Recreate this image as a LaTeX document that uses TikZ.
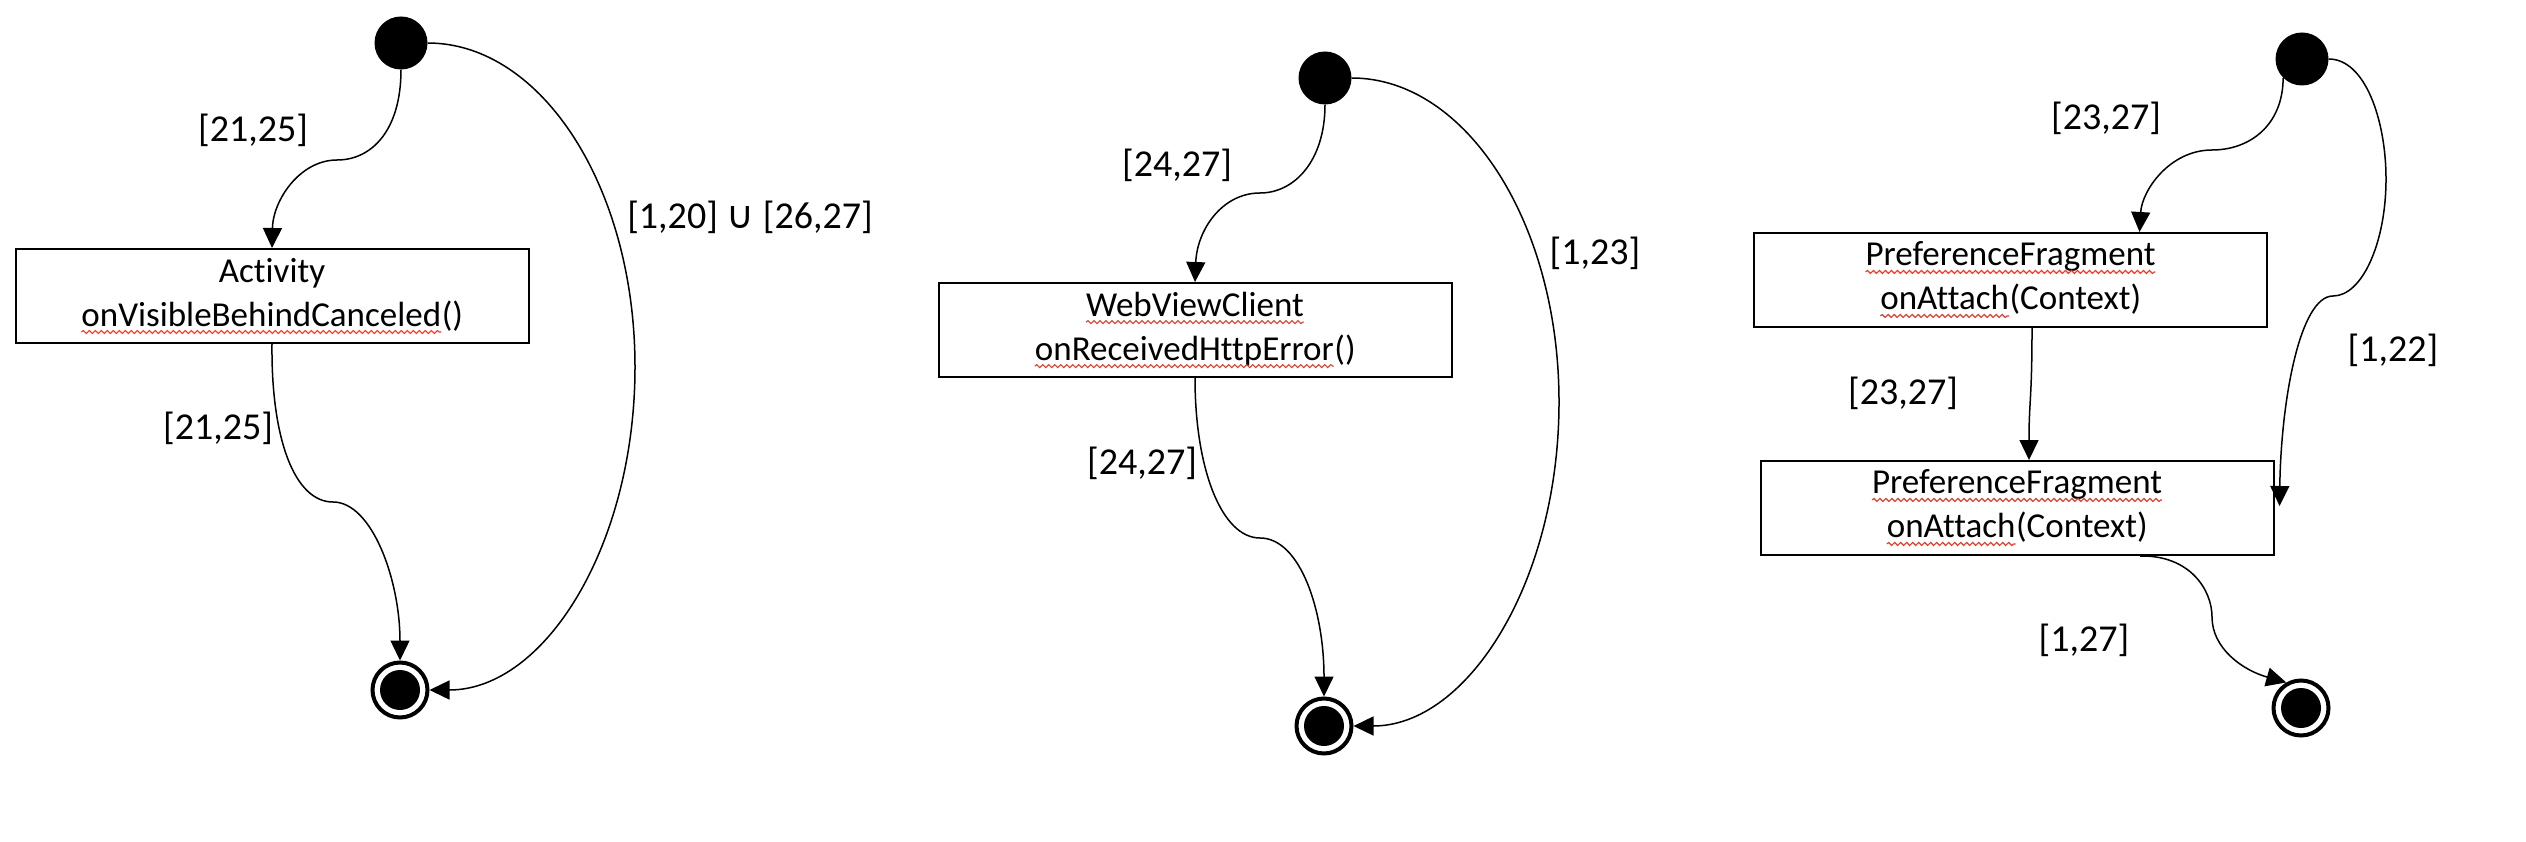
\documentclass[tikz,border=0pt]{standalone}
\usepackage{fontspec}
\setmainfont{Carlito}[Ligatures=NoCommon]
\newfontfamily\symfamily{DejaVu Sans}
\usetikzlibrary{arrows.meta,decorations.pathmorphing}
\definecolor{squigred}{RGB}{232,58,40}
\tikzset{
  every node/.style={font=\fontsize{35}{44}\selectfont},
  initstate/.style={circle,fill=black,minimum size=53pt,inner sep=0pt},
  finalstate/.style={circle,draw=black,line width=4pt,minimum size=55pt,inner sep=0pt,
    path picture={\fill[black] (path picture bounding box.center) circle (20pt);}},
  statebox/.style={draw=black,line width=2pt,minimum width=513pt,minimum height=94pt,inner sep=0pt,align=center},
  flow/.style={line width=1.5pt,-{Triangle[length=20pt,width=19pt]}},
  guard/.style={inner sep=0pt,font=\fontsize{38}{46}\selectfont},
  wordbox/.style={draw=none,fill=none,inner sep=0pt,outer sep=0pt,minimum width=0pt,minimum height=0pt,line width=0.4pt,anchor=base,align=left},
  squig/.style={draw=squigred,line width=1.1pt,decorate,decoration={snake,amplitude=1.5pt,segment length=6pt}}
}
\newcommand\spellerr[1]{\tikz[baseline=(sq.base)]{\node[wordbox](sq){#1};\draw[squig]([yshift=-6pt]sq.base west)--([yshift=-6pt]sq.base east);}}
\begin{document}
\begin{tikzpicture}[x=1pt,y=-1pt]
\path[use as bounding box] (0,0) rectangle (2526,842);

% ---------- diagram 1 ----------
\node[initstate] (i1) at (401,43) {};
\node[statebox] (b1) at (272,296) {Activity\\\spellerr{onVisibleBehindCanceled}()};
\node[finalstate] (f1) at (400,690) {};
\node[guard] (g1a) at (253,130) {[21,25]};
\node[guard] (g1b) at (218,428) {[21,25]};
\node[guard] (g1c) at (750,217) {[1,20] {\symfamily\fontsize{38}{46}\selectfont ∪} [26,27]};
\draw[flow] (i1.south) .. controls (401,130) and (372,160) .. (337,160) .. controls (300,160) and (273,200) .. (b1.north);
\draw[flow] (b1.south) .. controls (271,440) and (295,502) .. (333,502) .. controls (372,502) and (400,580) .. (f1.north);
\draw[flow] (i1.east) .. controls (542,43) and (635,188) .. (635,367) .. controls (635,545) and (545,690) .. (f1.east);

% ---------- diagram 2 ----------
\node[initstate] (i2) at (1325,78) {};
\node[statebox] (b2) at (1195,330) {\spellerr{WebViewClient}\\\spellerr{onReceivedHttpError}()};
\node[finalstate] (f2) at (1324,726) {};
\node[guard] (g2a) at (1177,165) {[24,27]};
\node[guard] (g2b) at (1142,463) {[24,27]};
\node[guard] (g2c) at (1595,253) {[1,23]};
\draw[flow] (i2.south) .. controls (1325,160) and (1295,193) .. (1260,193) .. controls (1222,193) and (1197,230) .. (b2.north);
\draw[flow] (b2.south) .. controls (1195,470) and (1222,538) .. (1260,538) .. controls (1300,538) and (1324,610) .. (f2.north);
\draw[flow] (i2.east) .. controls (1466,78) and (1559,223) .. (1559,402) .. controls (1559,581) and (1468,726) .. (f2.east);

% ---------- diagram 3 ----------
\node[initstate] (i3) at (2302,59) {};
\node[statebox] (a3) at (2010.5,280) {\spellerr{PreferenceFragment}\\\spellerr{onAttach}(Context)};
\node[statebox] (c3) at (2017,508) {\spellerr{PreferenceFragment}\\\spellerr{onAttach}(Context)};
\node[finalstate] (f3) at (2301,708) {};
\node[guard] (g3a) at (2106,118) {[23,27]};
\node[guard] (g3b) at (1903,393) {[23,27]};
\node[guard] (g3c) at (2393,350) {[1,22]};
\node[guard] (g3d) at (2084,640) {[1,27]};
\draw[flow] (i3.south west) .. controls (2283,125) and (2250,150) .. (2212,150) .. controls (2170,150) and (2142,190) .. ([xshift=129pt]a3.north);
\draw[flow] ([xshift=21.5pt]a3.south) .. controls (2032,400) and (2029,400) .. ([xshift=12pt]c3.north);
\draw[flow] (i3.east) .. controls (2365,59) and (2386,120) .. (2386,179) .. controls (2386,243) and (2362,296) .. (2333,296) .. controls (2300,296) and (2281,400) .. ([xshift=5pt,yshift=2pt]c3.east);
\draw[flow] ([xshift=123pt]c3.south) .. controls (2190,555) and (2212,590) .. (2212,617) .. controls (2212,648) and (2242,670) .. (f3.120);
\end{tikzpicture}
\end{document}
